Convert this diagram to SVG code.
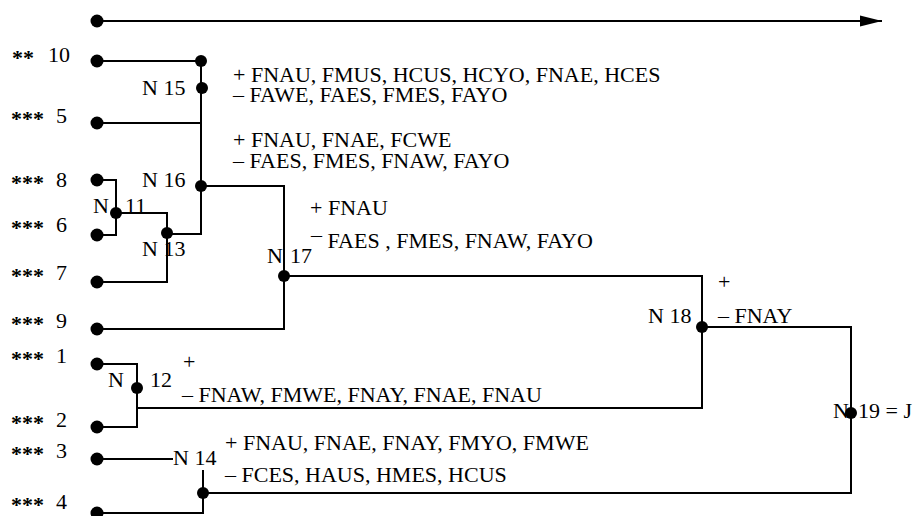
<svg xmlns="http://www.w3.org/2000/svg" width="924" height="516" viewBox="0 0 924 516">
<style>
text{font-family:"Liberation Serif","Times New Roman",serif;font-size:22px;fill:#000}
.a{font-weight:bold}
.w{fill:none;stroke:#000;stroke-width:2}
.d{fill:#000}
</style>
<defs>
<marker id="arr" markerUnits="userSpaceOnUse" markerWidth="24" markerHeight="12" refX="22" refY="6" orient="auto">
<path d="M0 0.5 L22 6 L0 11.5 Z" fill="#000"/>
</marker>
</defs>
<rect width="924" height="516" fill="#fff"/>
<g id="connectors">
<path class="w" d="M97 21 H882" marker-end="url(#arr)"/>
<path class="w" d="M97 61 H201 V88"/>
<path class="w" d="M97 123 H201"/>
<path class="w" d="M201 88 V186"/>
<path class="w" d="M97 180 H116 V213"/>
<path class="w" d="M97 235 H116 V213"/>
<path class="w" d="M116 213 H167 V233"/>
<path class="w" d="M97 282 H167 V233"/>
<path class="w" d="M167 234 H201 V186"/>
<path class="w" d="M201 186 H284 V276"/>
<path class="w" d="M97 329 H284 V276"/>
<path class="w" d="M284 276 H702 V327"/>
<path class="w" d="M97 364 H137 V388"/>
<path class="w" d="M97 427 H137 V388"/>
<path class="w" d="M137 408 H702 V327"/>
<path class="w" d="M702 327 H851 V413"/>
<path class="w" d="M97 459 H173"/>
<path class="w" d="M203 470 V493"/>
<path class="w" d="M97 513 H203 V493"/>
<path class="w" d="M203 493 H851 V413"/>
</g>
<g id="axis"><circle class="d" cx="97" cy="21" r="6.5"/></g>
<g id="leaf10"><circle class="d" cx="97" cy="61" r="6.5"/><text x="12" y="62"><tspan class="a" dy="3">** </tspan><tspan x="48" dy="-3">10</tspan></text></g>
<g id="leaf5"><circle class="d" cx="97" cy="123" r="6.5"/><text x="11" y="123"><tspan class="a" dy="3">*** </tspan><tspan x="56" dy="-3">5</tspan></text></g>
<g id="leaf8"><circle class="d" cx="97" cy="180" r="6.5"/><text x="11" y="187"><tspan class="a" dy="3">*** </tspan><tspan x="56" dy="-3">8</tspan></text></g>
<g id="leaf6"><circle class="d" cx="97" cy="235" r="6.5"/><text x="11" y="232"><tspan class="a" dy="3">*** </tspan><tspan x="56" dy="-3">6</tspan></text></g>
<g id="leaf7"><circle class="d" cx="97" cy="282" r="6.5"/><text x="11" y="280"><tspan class="a" dy="3">*** </tspan><tspan x="56" dy="-3">7</tspan></text></g>
<g id="leaf9"><circle class="d" cx="97" cy="329" r="6.5"/><text x="11" y="328"><tspan class="a" dy="3">*** </tspan><tspan x="56" dy="-3">9</tspan></text></g>
<g id="leaf1"><circle class="d" cx="97" cy="364" r="6.5"/><text x="11" y="363"><tspan class="a" dy="3">*** </tspan><tspan x="56" dy="-3">1</tspan></text></g>
<g id="leaf2"><circle class="d" cx="97" cy="427" r="6.5"/><text x="11" y="427"><tspan class="a" dy="3">*** </tspan><tspan x="56" dy="-3">2</tspan></text></g>
<g id="leaf3"><circle class="d" cx="97" cy="459" r="6.5"/><text x="11" y="458"><tspan class="a" dy="3">*** </tspan><tspan x="56" dy="-3">3</tspan></text></g>
<g id="leaf4"><circle class="d" cx="97" cy="513" r="6.5"/><text x="11" y="509"><tspan class="a" dy="3">*** </tspan><tspan x="56" dy="-3">4</tspan></text></g>
<g id="n15"><circle class="d" cx="201" cy="61" r="6"/><circle class="d" cx="202" cy="88" r="6"/><text x="142" y="95">N 15</text>
<text x="233" y="82">+ FNAU, FMUS, HCUS, HCYO, FNAE, HCES</text>
<text x="233" y="102">– FAWE, FAES, FMES, FAYO</text></g>
<g id="n16"><circle class="d" cx="201" cy="186" r="6"/><text x="142" y="187">N 16</text>
<text x="233" y="147">+ FNAU, FNAE, FCWE</text>
<text x="233" y="168">– FAES, FMES, FNAW, FAYO</text></g>
<g id="n11"><circle class="d" cx="116" cy="213" r="6"/><text x="93" y="213">N <tspan x="125">11</tspan></text></g>
<g id="n13"><circle class="d" cx="167" cy="233" r="6"/><text x="142" y="256">N 13</text></g>
<g id="n17"><circle class="d" cx="284" cy="276" r="6"/><text x="267" y="263">N <tspan x="290">17</tspan></text>
<text x="310" y="215">+ FNAU</text>
<text x="311" y="248"><tspan dy="-6">–</tspan><tspan dy="6"> FAES , FMES, FNAW, FAYO</tspan></text></g>
<g id="n12"><circle class="d" cx="137" cy="388" r="6"/><text x="108" y="387">N <tspan x="150">12</tspan></text>
<text x="183" y="369">+</text>
<text x="182" y="402">– FNAW, FMWE, FNAY, FNAE, FNAU</text></g>
<g id="n14"><circle class="d" cx="203" cy="493" r="6"/><text x="173" y="465">N 14</text>
<text x="225" y="450">+ FNAU, FNAE, FNAY, FMYO, FMWE</text>
<text x="225" y="482">– FCES, HAUS, HMES, HCUS</text></g>
<g id="n18"><circle class="d" cx="702" cy="327" r="6"/><text x="648" y="323">N 18</text>
<text x="718" y="289">+</text>
<text x="718" y="323">– FNAY</text></g>
<g id="n19"><circle class="d" cx="851" cy="413" r="6"/><text x="833" y="418">N <tspan x="858">19 = J</tspan></text></g>
</svg>
